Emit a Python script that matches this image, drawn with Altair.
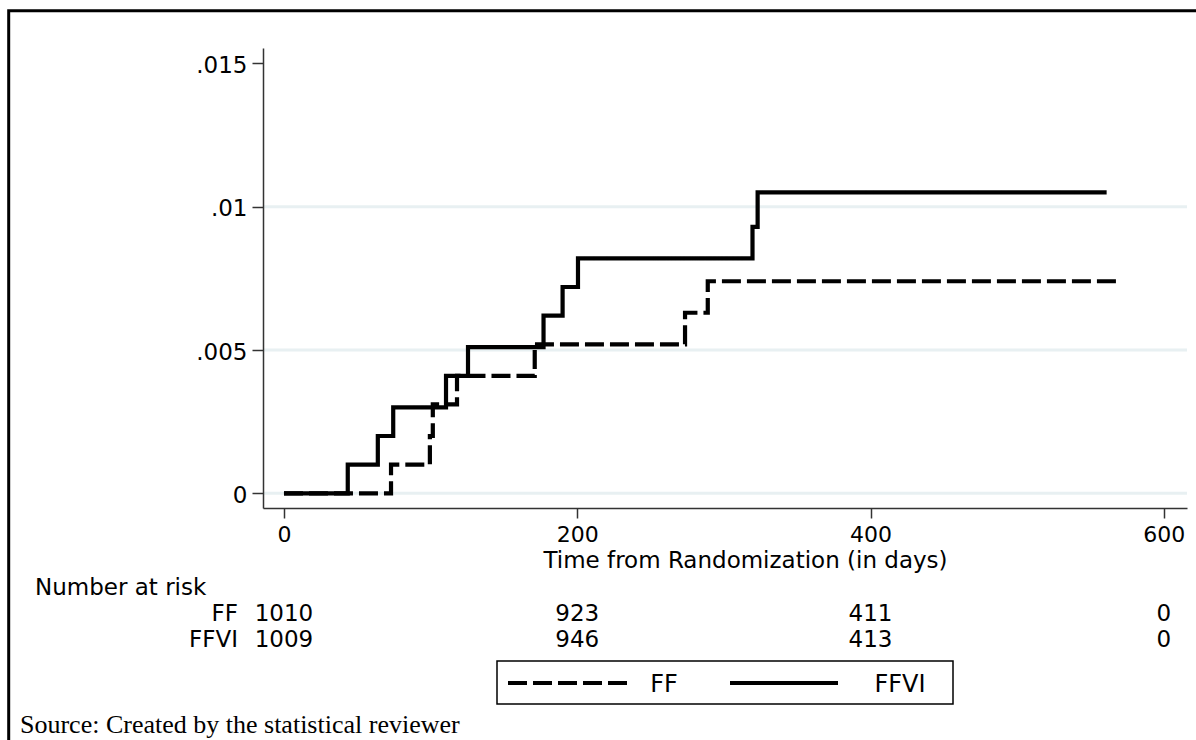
import altair as alt
import pandas as pd

# ---------------- data ----------------
groups = ["FF", "FFVI"]
ff_days = [0, 73, 99.5, 101.5, 118, 171, 273.5, 289, 569]
ff_fail = [0, 0.0010, 0.0020, 0.0031, 0.0041, 0.0052, 0.0063, 0.0074, 0.0074]
ffvi_days = [0, 43.5, 64, 74.5, 110.5, 125.5, 177, 190, 200.5, 319.5, 323, 561]
ffvi_fail = [0, 0.0010, 0.0020, 0.0030, 0.0041, 0.0051, 0.0062, 0.0072, 0.0082, 0.0093, 0.0105, 0.0105]

risk_times = [0, 200, 400, 600]
risk_ff = ["1010", "923", "411", "0"]
risk_ffvi = ["1009", "946", "413", "0"]

x_ticks = [0, 200, 400, 600]
y_ticks = [0, 0.005, 0.01, 0.015]
y_tick_labels = ["0", ".005", ".01", ".015"]
grid_values = [0, 0.005, 0.01]

x_title = "Time from Randomization (in days)"
risk_title = "Number at risk"
source_note = "Source: Created by the statistical reviewer"

# ---------------- layout ----------------
W, H = 924, 460
LEFT, TOP = 263, 48
SANS = "DejaVu Sans"
FS = 23

lines_df = pd.concat([
    pd.DataFrame({"day": ff_days, "fail": ff_fail, "group": groups[0]}),
    pd.DataFrame({"day": ffvi_days, "fail": ffvi_fail, "group": groups[1]}),
])

y_label_expr = " : ".join(
    f"datum.value == {v} ? '{l}'" for v, l in zip(y_ticks, y_tick_labels)
) + " : ''"

x_enc = alt.X(
    "day:Q",
    scale=alt.Scale(domain=[-14.3, 615.8], nice=False, zero=False),
    axis=alt.Axis(
        values=x_ticks, grid=False, format="d", zindex=1,
        labelFont=SANS, labelFontSize=22, labelColor="black", labelPadding=6,
        labelFlush=False,
        tickSize=10, tickColor="#333333", tickWidth=1.5,
        domainColor="#333333", domainWidth=1.5,
        title=x_title, titleFont=SANS, titleFontSize=23, titleFontWeight="normal",
        titleColor="black", titleX=482, titleY=59, titleAlign="center",
        titleBaseline="alphabetic",
    ),
)
y_enc = alt.Y(
    "fail:Q",
    scale=alt.Scale(domain=[-0.000513, 0.01554], nice=False, zero=False),
    axis=alt.Axis(
        values=y_ticks, grid=False, labelExpr=y_label_expr, zindex=1,
        labelFont=SANS, labelFontSize=FS, labelColor="black", labelPadding=5,
        labelOffset=2, labelFlush=False,
        tickSize=11, tickColor="#333333", tickWidth=1.5,
        domainColor="#333333", domainWidth=1.5, title="",
    ),
)

one = pd.DataFrame({"a": [0]})

frame = alt.Chart(one).mark_rect(fillOpacity=0, stroke="black", strokeWidth=3).encode(
    x=alt.value(8.7 - LEFT), x2=alt.value(1196 - LEFT + 20),
    y=alt.value(10.7 - TOP), y2=alt.value(740 - TOP + 20),
)

grid = alt.Chart(pd.DataFrame({"fail": grid_values})).mark_rule(
    color="#E8F0F2", strokeWidth=3
).encode(y=y_enc)

curves = alt.Chart(lines_df).mark_line(
    interpolate="step-after", strokeWidth=4.2, color="black", strokeCap="butt"
).encode(
    x=x_enc, y=y_enc,
    strokeDash=alt.StrokeDash(
        "group:N",
        scale=alt.Scale(domain=groups, range=[[19, 6], [1, 0]]),
        legend=None,
    ),
    detail="group:N",
)

risk_ff_layer = alt.Chart(pd.DataFrame({"day": risk_times, "n": risk_ff})).mark_text(
    font=SANS, fontSize=FS, align="center", baseline="alphabetic", color="black"
).encode(x=x_enc, y=alt.value(621 - TOP), text="n:N")

risk_ffvi_layer = alt.Chart(pd.DataFrame({"day": risk_times, "n": risk_ffvi})).mark_text(
    font=SANS, fontSize=FS, align="center", baseline="alphabetic", color="black"
).encode(x=x_enc, y=alt.value(647 - TOP), text="n:N")

label_style = dict(font=SANS, fontSize=FS, baseline="alphabetic", color="black")

risk_head = alt.Chart(one).mark_text(align="left", text=risk_title, **label_style).encode(
    x=alt.value(35 - LEFT), y=alt.value(595 - TOP))
row_ff = alt.Chart(one).mark_text(align="right", text=groups[0], **label_style).encode(
    x=alt.value(238 - LEFT), y=alt.value(621 - TOP))
row_ffvi = alt.Chart(one).mark_text(align="right", text=groups[1], **label_style).encode(
    x=alt.value(238 - LEFT), y=alt.value(647 - TOP))

# legend box
leg_box = alt.Chart(one).mark_rect(fill="white", stroke="black", strokeWidth=1.5).encode(
    x=alt.value(497 - LEFT), x2=alt.value(953 - LEFT),
    y=alt.value(661 - TOP), y2=alt.value(704 - TOP),
)
leg_dash = alt.Chart(one).mark_rule(color="black", strokeWidth=4, strokeDash=[19, 6]).encode(
    x=alt.value(508 - LEFT), x2=alt.value(630 - LEFT), y=alt.value(683 - TOP))
leg_solid = alt.Chart(one).mark_rule(color="black", strokeWidth=4).encode(
    x=alt.value(730 - LEFT), x2=alt.value(838 - LEFT), y=alt.value(683 - TOP))
leg_ff = alt.Chart(one).mark_text(
    align="center", baseline="middle", text=groups[0], font=SANS, fontSize=24, color="black"
).encode(x=alt.value(664 - LEFT), y=alt.value(685 - TOP))
leg_ffvi = alt.Chart(one).mark_text(
    align="center", baseline="middle", text=groups[1], font=SANS, fontSize=24, color="black"
).encode(x=alt.value(900 - LEFT), y=alt.value(685 - TOP))

source = alt.Chart(one).mark_text(
    align="left", baseline="alphabetic", text=source_note,
    font="Liberation Serif", fontSize=26, color="black"
).encode(x=alt.value(20 - LEFT), y=alt.value(733 - TOP))

chart = alt.layer(
    frame, grid, curves, risk_ff_layer, risk_ffvi_layer, risk_head, row_ff, row_ffvi,
    leg_box, leg_dash, leg_solid, leg_ff, leg_ffvi, source,
).properties(
    width=W, height=H,
    autosize=alt.AutoSizeParams(type="none"),
    padding={"left": LEFT, "top": TOP, "right": 1196 - LEFT - W, "bottom": 740 - TOP - H},
    background="white",
).configure_view(stroke="transparent")

chart.save("out.html", embed_options={"renderer": "svg", "actions": False})
